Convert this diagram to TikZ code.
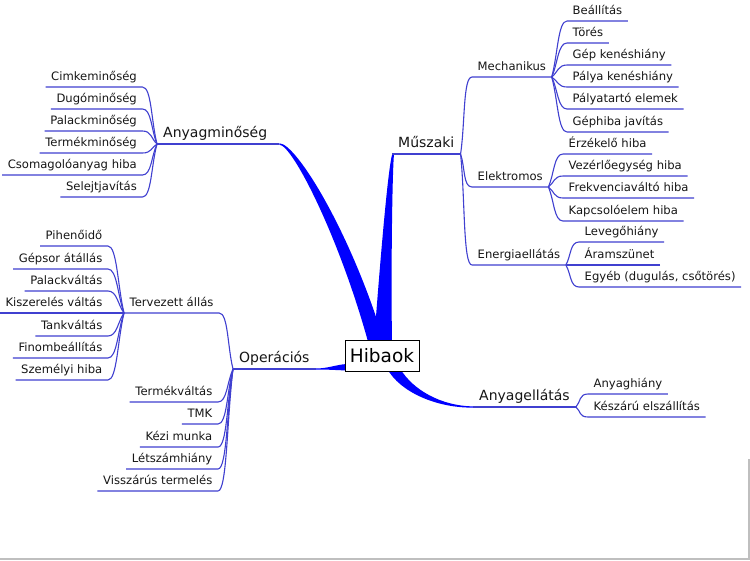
\documentclass[tikz,border=0pt]{standalone}
\usepackage{fontspec}
\setmainfont{DejaVu Sans}
\usetikzlibrary{calc,backgrounds}
\definecolor{edge}{RGB}{64,64,208}
\definecolor{trunk}{RGB}{0,0,255}
\definecolor{txt}{RGB}{22,22,22}
\newcommand{\lleaf}[2]{\draw[leafline] (#1.south west) -- (#1.south east) .. controls ($(#1.south east)+(9,0)$) and ($(#2)!0.4!(#1.south east)$) .. (#2);}
\newcommand{\rleaf}[2]{\draw[leafline] (#1.south east) -- (#1.south west) .. controls ($(#1.south west)+(-9,0)$) and ($(#2)!0.4!(#1.south west)$) .. (#2);}
\begin{document}
\begin{tikzpicture}[x=1pt,y=-1pt,
  leafline/.style={draw=edge,line width=1.1pt},
  trunkfill/.style={fill=trunk},
  lbl/.style={font=\fontsize{11.6}{13}\selectfont,text=txt,inner xsep=5.5pt,inner ysep=3pt,text height=9pt,text depth=3pt},
  bigl/.style={font=\fontsize{14}{16}\selectfont,text=txt,inner xsep=6pt,inner ysep=2.5pt,text height=10.5pt,text depth=3.5pt},
  rootbox/.style={draw=black,line width=0.8pt,fill=white,font=\fontsize{18.5}{20}\selectfont,text=black,minimum width=74pt,minimum height=31pt,inner sep=0pt}]
\useasboundingbox (0,0) rectangle (750,560);

% root
\node[rootbox] (Hib) at (382,355.5) {Hibaok};

% main branches
\node[bigl,anchor=south west] (Anyag) at (157,144) {Anyagminőség};
\node[bigl,anchor=south west] (Oper) at (233,369) {Operációs};
\node[bigl,anchor=south west] (Musz) at (392,154) {Műszaki};
\node[bigl,anchor=south west] (Anye) at (473,407) {Anyagellátás};
\coordinate (AnyagEnd) at ($(Anyag.south east)+(6,0)$);

% sub branches
\node[lbl,anchor=south west] (Terv) at (124,313) {Tervezett állás};
\node[lbl,anchor=south west] (Mech) at (472,77) {Mechanikus};
\node[lbl,anchor=south west] (Elek) at (472,187) {Elektromos};
\node[lbl,anchor=south west] (Ener) at (472,265) {Energiaellátás};

% Anyagminoseg leaves
\node[lbl,anchor=south east] (a1) at (142.5,87) {Cimkeminőség};
\node[lbl,anchor=south east] (a2) at (142.5,109) {Dugóminőség};
\node[lbl,anchor=south east] (a3) at (142.5,131) {Palackminőség};
\node[lbl,anchor=south east] (a4) at (142.5,153) {Termékminőség};
\node[lbl,anchor=south east] (a5) at (142.5,175) {Csomagolóanyag hiba};
\node[lbl,anchor=south east] (a6) at (142.5,197) {Selejtjavítás};

% Tervezett leaves
\node[lbl,anchor=south east] (t1) at (108,246) {Pihenőidő};
\node[lbl,anchor=south east] (t2) at (108,269) {Gépsor átállás};
\node[lbl,anchor=south east] (t3) at (108,291) {Palackváltás};
\node[lbl,anchor=south east] (t4) at (108,313) {Kiszerelés váltás};
\node[lbl,anchor=south east] (t5) at (108,336) {Tankváltás};
\node[lbl,anchor=south east] (t6) at (108,358) {Finombeállítás};
\node[lbl,anchor=south east] (t7) at (108,380) {Személyi hiba};

% Operacios leaves
\node[lbl,anchor=south east] (o1) at (218,402) {Termékváltás};
\node[lbl,anchor=south east] (o2) at (218,424) {TMK};
\node[lbl,anchor=south east] (o3) at (218,447) {Kézi munka};
\node[lbl,anchor=south east] (o4) at (218,469) {Létszámhiány};
\node[lbl,anchor=south east] (o5) at (218,491) {Visszárús termelés};

% Mechanikus leaves
\node[lbl,anchor=south west] (m1) at (567,21) {Beállítás};
\node[lbl,anchor=south west] (m2) at (567,43) {Törés};
\node[lbl,anchor=south west] (m3) at (567,65) {Gép kenéshiány};
\node[lbl,anchor=south west] (m4) at (567,87) {Pálya kenéshiány};
\node[lbl,anchor=south west] (m5) at (567,109) {Pályatartó elemek};
\node[lbl,anchor=south west] (m6) at (567,132) {Géphiba javítás};

% Elektromos leaves
\node[lbl,anchor=south west] (e1) at (563,154) {Érzékelő hiba};
\node[lbl,anchor=south west] (e2) at (563,176) {Vezérlőegység hiba};
\node[lbl,anchor=south west] (e3) at (563,198) {Frekvenciaváltó hiba};
\node[lbl,anchor=south west] (e4) at (563,221) {Kapcsolóelem hiba};

% Energia leaves
\node[lbl,anchor=south west] (g1) at (579,242) {Levegőhiány};
\node[lbl,anchor=south west] (g2) at (579,265) {Áramszünet};
\node[lbl,anchor=south west] (g3) at (579,287) {Egyéb (dugulás, csőtörés)};

% Anyagellatas leaves
\node[lbl,anchor=south west] (s1) at (588,394) {Anyaghiány};
\node[lbl,anchor=south west] (s2) at (588,417) {Készárú elszállítás};

% underlines of main branches
\draw[leafline] (Anyag.south west) -- (AnyagEnd);
\draw[leafline] (Oper.south west) -- (Oper.south east);
\draw[leafline] (Musz.south west) -- (Musz.south east);
\draw[leafline] (Anye.south west) -- (Anye.south east);

% leaf connectors
\foreach \n in {a1,a2,a3,a4,a5,a6} {\lleaf{\n}{Anyag.south west}}
\foreach \n in {t1,t2,t3,t4,t5,t6,t7} {\lleaf{\n}{Terv.south west}}
\foreach \n in {o1,o2,o3,o4,o5} {\lleaf{\n}{Oper.south west}}
\lleaf{Terv}{Oper.south west}
\foreach \n in {m1,m2,m3,m4,m5,m6} {\rleaf{\n}{Mech.south east}}
\foreach \n in {e1,e2,e3,e4} {\rleaf{\n}{Elek.south east}}
\foreach \n in {g1,g2,g3} {\rleaf{\n}{Ener.south east}}
\foreach \n in {s1,s2} {\rleaf{\n}{Anye.south east}}
\rleaf{Mech}{Musz.south east}
\rleaf{Elek}{Musz.south east}
\rleaf{Ener}{Musz.south east}

% tapered trunks
\begin{scope}[on background layer]
\fill[white] (0,0) rectangle (750,560);
\fill[trunkfill] ($(AnyagEnd)+(0,0.7)$) .. controls ($(AnyagEnd)+(13,0.7)$) and ($(Hib.north)+(-43,-103)$) .. ($(Hib.north)+(-14,2)$)
  -- ($(Hib.north)+(2,2)$) .. controls ($(Hib.north)+(-31,-107)$) and ($(AnyagEnd)+(17,-0.7)$) .. ($(AnyagEnd)+(0,-0.7)$) -- cycle;
\fill[trunkfill] ($(Hib.north)+(-8,3)$) .. controls ($(Hib.north)+(-4,-50)$) and ($(Musz.south west)+(-5,20)$) .. ($(Musz.south west)+(0,1)$)
  -- ($(Musz.south west)+(2,-0.5)$) .. controls ($(Musz.south west)+(0,25)$) and ($(Hib.north)+(9,-60)$) .. ($(Hib.north)+(10,3)$) -- cycle;
\fill[trunkfill] ($(Oper.south east)+(0,-0.5)$) .. controls ($(Oper.south east)+(12,-0.5)$) and ($(Hib.west)+(-10,9.5)$) .. ($(Hib.west)+(2,8.5)$)
  -- ($(Hib.west)+(2,15)$) .. controls ($(Hib.west)+(-10,14.5)$) and ($(Oper.south east)+(12,0.5)$) .. ($(Oper.south east)+(0,0.5)$) -- cycle;
\fill[trunkfill] ($(Hib.south)+(18,-3)$) .. controls ($(Hib.south)+(31,19)$) and ($(Anye.south west)+(-31,-1)$) .. ($(Anye.south west)+(0,-0.6)$)
  -- ($(Anye.south west)+(0,0.6)$) .. controls ($(Anye.south west)+(-36,1)$) and ($(Hib.south)+(18,21)$) .. ($(Hib.south)+(5,-3)$) -- cycle;
\end{scope}

% screenshot frame edges
\draw[black!25,line width=1.2pt] (0,559) -- (750,559);
\draw[black!25,line width=1.2pt] (749,459) -- (749,560);
\end{tikzpicture}
\end{document}
